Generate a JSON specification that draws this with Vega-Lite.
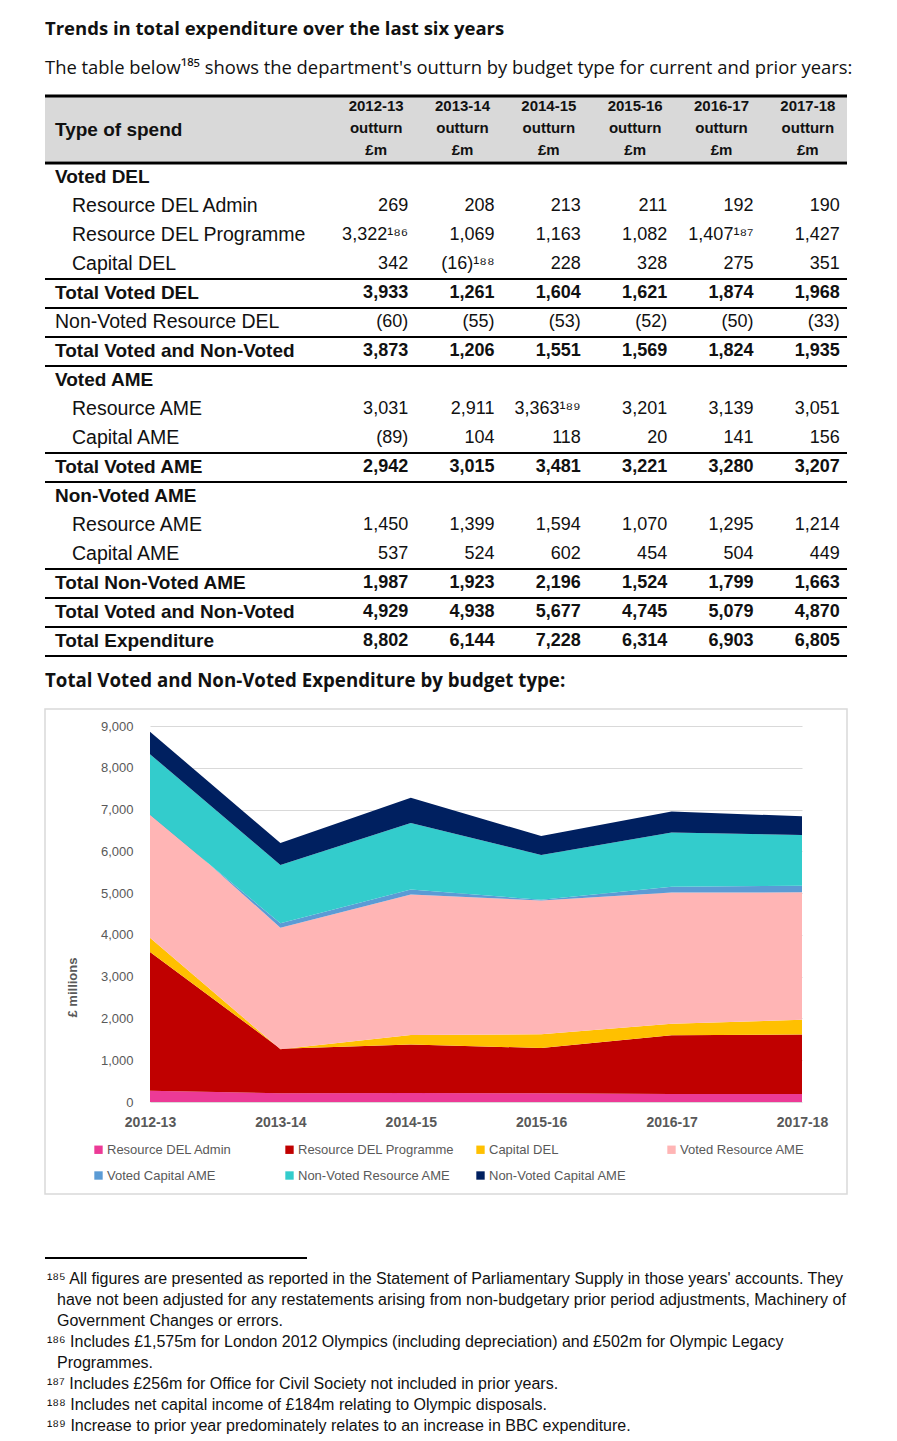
{
  "$schema": "https://vega.github.io/schema/vega-lite/v6.json",
  "background": "white",
  "padding": {"left": 43, "top": 19, "right": 10, "bottom": 0},
  "config": {
    "font": "Liberation Sans",
    "view": {"stroke": null},
    "text": {"color": "#111111"}
  },
  "title": {
    "text": "Trends in total expenditure over the last six years",
    "subtitle": "The table below¹⁸⁵ shows the department's outturn by budget type for current and prior years:",
    "anchor": "start",
    "frame": "group",
    "font": "Open Sans",
    "subtitleFont": "Open Sans",
    "fontSize": 18.5,
    "fontWeight": "bold",
    "color": "#111111",
    "subtitleFontSize": 18.4,
    "subtitleColor": "#111111",
    "subtitlePadding": 21,
    "offset": 17
  },
  "datasets": {
    "headcols": [
      {"year": "2012-13", "head": "2012-13\noutturn\n£m"},
      {"year": "2013-14", "head": "2013-14\noutturn\n£m"},
      {"year": "2014-15", "head": "2014-15\noutturn\n£m"},
      {"year": "2015-16", "head": "2015-16\noutturn\n£m"},
      {"year": "2016-17", "head": "2016-17\noutturn\n£m"},
      {"year": "2017-18", "head": "2017-18\noutturn\n£m"}
    ],
    "rows": [
      {"r": 1, "label": "Voted DEL", "kind": "section", "level": 0},
      {"r": 2, "label": "Resource DEL Admin", "kind": "item", "level": 1},
      {"r": 3, "label": "Resource DEL Programme", "kind": "item", "level": 1},
      {"r": 4, "label": "Capital DEL", "kind": "item", "level": 1},
      {"r": 5, "label": "Total Voted DEL", "kind": "total", "level": 0},
      {"r": 6, "label": "Non-Voted Resource DEL", "kind": "plain", "level": 0},
      {"r": 7, "label": "Total Voted and Non-Voted", "kind": "total", "level": 0},
      {"r": 8, "label": "Voted AME", "kind": "section", "level": 0},
      {"r": 9, "label": "Resource AME", "kind": "item", "level": 1},
      {"r": 10, "label": "Capital AME", "kind": "item", "level": 1},
      {"r": 11, "label": "Total Voted AME", "kind": "total", "level": 0},
      {"r": 12, "label": "Non-Voted AME", "kind": "section", "level": 0},
      {"r": 13, "label": "Resource AME", "kind": "item", "level": 1},
      {"r": 14, "label": "Capital AME", "kind": "item", "level": 1},
      {"r": 15, "label": "Total Non-Voted AME", "kind": "total", "level": 0},
      {"r": 16, "label": "Total Voted and Non-Voted", "kind": "total", "level": 0},
      {"r": 17, "label": "Total Expenditure", "kind": "total", "level": 0}
    ],
    "cells": [
      {"r": 2, "year": "2012-13", "val": "269"}, {"r": 2, "year": "2013-14", "val": "208"}, {"r": 2, "year": "2014-15", "val": "213"}, {"r": 2, "year": "2015-16", "val": "211"}, {"r": 2, "year": "2016-17", "val": "192"}, {"r": 2, "year": "2017-18", "val": "190"},
      {"r": 3, "year": "2012-13", "val": "3,322¹⁸⁶"}, {"r": 3, "year": "2013-14", "val": "1,069"}, {"r": 3, "year": "2014-15", "val": "1,163"}, {"r": 3, "year": "2015-16", "val": "1,082"}, {"r": 3, "year": "2016-17", "val": "1,407¹⁸⁷"}, {"r": 3, "year": "2017-18", "val": "1,427"},
      {"r": 4, "year": "2012-13", "val": "342"}, {"r": 4, "year": "2013-14", "val": "(16)¹⁸⁸"}, {"r": 4, "year": "2014-15", "val": "228"}, {"r": 4, "year": "2015-16", "val": "328"}, {"r": 4, "year": "2016-17", "val": "275"}, {"r": 4, "year": "2017-18", "val": "351"},
      {"r": 5, "year": "2012-13", "val": "3,933"}, {"r": 5, "year": "2013-14", "val": "1,261"}, {"r": 5, "year": "2014-15", "val": "1,604"}, {"r": 5, "year": "2015-16", "val": "1,621"}, {"r": 5, "year": "2016-17", "val": "1,874"}, {"r": 5, "year": "2017-18", "val": "1,968"},
      {"r": 6, "year": "2012-13", "val": "(60)"}, {"r": 6, "year": "2013-14", "val": "(55)"}, {"r": 6, "year": "2014-15", "val": "(53)"}, {"r": 6, "year": "2015-16", "val": "(52)"}, {"r": 6, "year": "2016-17", "val": "(50)"}, {"r": 6, "year": "2017-18", "val": "(33)"},
      {"r": 7, "year": "2012-13", "val": "3,873"}, {"r": 7, "year": "2013-14", "val": "1,206"}, {"r": 7, "year": "2014-15", "val": "1,551"}, {"r": 7, "year": "2015-16", "val": "1,569"}, {"r": 7, "year": "2016-17", "val": "1,824"}, {"r": 7, "year": "2017-18", "val": "1,935"},
      {"r": 9, "year": "2012-13", "val": "3,031"}, {"r": 9, "year": "2013-14", "val": "2,911"}, {"r": 9, "year": "2014-15", "val": "3,363¹⁸⁹"}, {"r": 9, "year": "2015-16", "val": "3,201"}, {"r": 9, "year": "2016-17", "val": "3,139"}, {"r": 9, "year": "2017-18", "val": "3,051"},
      {"r": 10, "year": "2012-13", "val": "(89)"}, {"r": 10, "year": "2013-14", "val": "104"}, {"r": 10, "year": "2014-15", "val": "118"}, {"r": 10, "year": "2015-16", "val": "20"}, {"r": 10, "year": "2016-17", "val": "141"}, {"r": 10, "year": "2017-18", "val": "156"},
      {"r": 11, "year": "2012-13", "val": "2,942"}, {"r": 11, "year": "2013-14", "val": "3,015"}, {"r": 11, "year": "2014-15", "val": "3,481"}, {"r": 11, "year": "2015-16", "val": "3,221"}, {"r": 11, "year": "2016-17", "val": "3,280"}, {"r": 11, "year": "2017-18", "val": "3,207"},
      {"r": 13, "year": "2012-13", "val": "1,450"}, {"r": 13, "year": "2013-14", "val": "1,399"}, {"r": 13, "year": "2014-15", "val": "1,594"}, {"r": 13, "year": "2015-16", "val": "1,070"}, {"r": 13, "year": "2016-17", "val": "1,295"}, {"r": 13, "year": "2017-18", "val": "1,214"},
      {"r": 14, "year": "2012-13", "val": "537"}, {"r": 14, "year": "2013-14", "val": "524"}, {"r": 14, "year": "2014-15", "val": "602"}, {"r": 14, "year": "2015-16", "val": "454"}, {"r": 14, "year": "2016-17", "val": "504"}, {"r": 14, "year": "2017-18", "val": "449"},
      {"r": 15, "year": "2012-13", "val": "1,987"}, {"r": 15, "year": "2013-14", "val": "1,923"}, {"r": 15, "year": "2014-15", "val": "2,196"}, {"r": 15, "year": "2015-16", "val": "1,524"}, {"r": 15, "year": "2016-17", "val": "1,799"}, {"r": 15, "year": "2017-18", "val": "1,663"},
      {"r": 16, "year": "2012-13", "val": "4,929"}, {"r": 16, "year": "2013-14", "val": "4,938"}, {"r": 16, "year": "2014-15", "val": "5,677"}, {"r": 16, "year": "2015-16", "val": "4,745"}, {"r": 16, "year": "2016-17", "val": "5,079"}, {"r": 16, "year": "2017-18", "val": "4,870"},
      {"r": 17, "year": "2012-13", "val": "8,802"}, {"r": 17, "year": "2013-14", "val": "6,144"}, {"r": 17, "year": "2014-15", "val": "7,228"}, {"r": 17, "year": "2015-16", "val": "6,314"}, {"r": 17, "year": "2016-17", "val": "6,903"}, {"r": 17, "year": "2017-18", "val": "6,805"}
    ],
    "spend": [
      {"year": "2012-13", "series": "Resource DEL Admin", "v": 269}, {"year": "2013-14", "series": "Resource DEL Admin", "v": 208}, {"year": "2014-15", "series": "Resource DEL Admin", "v": 213}, {"year": "2015-16", "series": "Resource DEL Admin", "v": 211}, {"year": "2016-17", "series": "Resource DEL Admin", "v": 192}, {"year": "2017-18", "series": "Resource DEL Admin", "v": 190},
      {"year": "2012-13", "series": "Resource DEL Programme", "v": 3322}, {"year": "2013-14", "series": "Resource DEL Programme", "v": 1069}, {"year": "2014-15", "series": "Resource DEL Programme", "v": 1163}, {"year": "2015-16", "series": "Resource DEL Programme", "v": 1082}, {"year": "2016-17", "series": "Resource DEL Programme", "v": 1407}, {"year": "2017-18", "series": "Resource DEL Programme", "v": 1427},
      {"year": "2012-13", "series": "Capital DEL", "v": 342}, {"year": "2013-14", "series": "Capital DEL", "v": -16}, {"year": "2014-15", "series": "Capital DEL", "v": 228}, {"year": "2015-16", "series": "Capital DEL", "v": 328}, {"year": "2016-17", "series": "Capital DEL", "v": 275}, {"year": "2017-18", "series": "Capital DEL", "v": 351},
      {"year": "2012-13", "series": "Voted Resource AME", "v": 3031}, {"year": "2013-14", "series": "Voted Resource AME", "v": 2911}, {"year": "2014-15", "series": "Voted Resource AME", "v": 3363}, {"year": "2015-16", "series": "Voted Resource AME", "v": 3201}, {"year": "2016-17", "series": "Voted Resource AME", "v": 3139}, {"year": "2017-18", "series": "Voted Resource AME", "v": 3051},
      {"year": "2012-13", "series": "Voted Capital AME", "v": -89}, {"year": "2013-14", "series": "Voted Capital AME", "v": 104}, {"year": "2014-15", "series": "Voted Capital AME", "v": 118}, {"year": "2015-16", "series": "Voted Capital AME", "v": 20}, {"year": "2016-17", "series": "Voted Capital AME", "v": 141}, {"year": "2017-18", "series": "Voted Capital AME", "v": 156},
      {"year": "2012-13", "series": "Non-Voted Resource AME", "v": 1450}, {"year": "2013-14", "series": "Non-Voted Resource AME", "v": 1399}, {"year": "2014-15", "series": "Non-Voted Resource AME", "v": 1594}, {"year": "2015-16", "series": "Non-Voted Resource AME", "v": 1070}, {"year": "2016-17", "series": "Non-Voted Resource AME", "v": 1295}, {"year": "2017-18", "series": "Non-Voted Resource AME", "v": 1214},
      {"year": "2012-13", "series": "Non-Voted Capital AME", "v": 537}, {"year": "2013-14", "series": "Non-Voted Capital AME", "v": 524}, {"year": "2014-15", "series": "Non-Voted Capital AME", "v": 602}, {"year": "2015-16", "series": "Non-Voted Capital AME", "v": 454}, {"year": "2016-17", "series": "Non-Voted Capital AME", "v": 504}, {"year": "2017-18", "series": "Non-Voted Capital AME", "v": 449}
    ],
    "notes": [
      {"ln": 1, "level": 0, "text": "¹⁸⁵ All figures are presented as reported in the Statement of Parliamentary Supply in those years' accounts. They"},
      {"ln": 2, "level": 1, "text": "have not been adjusted for any restatements arising from non-budgetary prior period adjustments, Machinery of"},
      {"ln": 3, "level": 1, "text": "Government Changes or errors."},
      {"ln": 4, "level": 0, "text": "¹⁸⁶ Includes £1,575m for London 2012 Olympics (including depreciation) and £502m for Olympic Legacy"},
      {"ln": 5, "level": 1, "text": "Programmes."},
      {"ln": 6, "level": 0, "text": "¹⁸⁷ Includes £256m for Office for Civil Society not included in prior years."},
      {"ln": 7, "level": 0, "text": "¹⁸⁸ Includes net capital income of £184m relating to Olympic disposals."},
      {"ln": 8, "level": 0, "text": "¹⁸⁹ Increase to prior year predominately relates to an increase in BBC expenditure."}
    ]
  },
  "spacing": 14,
  "vconcat": [
    {
      "spacing": 0,
      "vconcat": [
        {
          "width": 802,
          "height": 65,
          "view": {"fill": "#d9d9d9", "stroke": null},
          "layer": [
            {
              "data": {"name": "headcols"},
              "mark": {"type": "text", "fontWeight": "bold", "fontSize": 15, "lineBreak": "\n", "lineHeight": 22, "align": "center", "baseline": "middle", "dy": -23},
              "encoding": {
                "x": {"field": "year", "type": "ordinal", "scale": {"range": [288, 806], "paddingInner": 0, "paddingOuter": 0}, "axis": null},
                "text": {"field": "head"}
              }
            },
            {
              "data": {"values": [{"label": "Type of spend", "level": 0}]},
              "mark": {"type": "text", "fontWeight": "bold", "fontSize": 19, "align": "left", "baseline": "middle", "dy": 1},
              "encoding": {
                "x": {"field": "level", "type": "quantitative", "scale": {"domain": [0, 1], "range": [10, 27]}, "axis": null},
                "text": {"field": "label"}
              }
            },
            {
              "data": {"values": [{"label": "Type of spend"}]},
              "mark": {"type": "rule", "strokeWidth": 3, "color": "black"},
              "encoding": {
                "y": {"field": "label", "type": "nominal", "bandPosition": 0, "scale": {"paddingInner": 0, "paddingOuter": 0}, "axis": null}
              }
            }
          ],
          "resolve": {"scale": {"x": "independent"}}
        },
        {
          "width": 802,
          "height": 493,
          "layer": [
            {
              "data": {"name": "rows"},
              "transform": [{"filter": "datum.kind != 'item' && datum.r != 1"}],
              "mark": {"type": "rule", "strokeWidth": 2, "color": "black"},
              "encoding": {"y": {"field": "r", "type": "ordinal", "bandPosition": 0, "scale": {"paddingInner": 0, "paddingOuter": 0}, "axis": null}}
            },
            {
              "data": {"name": "rows"},
              "transform": [{"filter": "datum.r == 1"}],
              "mark": {"type": "rule", "strokeWidth": 3, "color": "black"},
              "encoding": {"y": {"field": "r", "type": "ordinal", "bandPosition": 0, "axis": null}}
            },
            {
              "data": {"name": "rows"},
              "transform": [{"filter": "datum.r == 17"}],
              "mark": {"type": "rule", "strokeWidth": 2, "color": "black"},
              "encoding": {"y": {"field": "r", "type": "ordinal", "bandPosition": 1, "axis": null}}
            },
            {
              "data": {"name": "rows"},
              "transform": [{"filter": "datum.kind == 'item' || datum.kind == 'plain'"}],
              "mark": {"type": "text", "align": "left", "baseline": "middle", "fontSize": 19.5, "dy": -1},
              "encoding": {
                "y": {"field": "r", "type": "ordinal", "axis": null},
                "x": {"field": "level", "type": "quantitative", "scale": {"domain": [0, 1], "range": [10, 27]}, "axis": null},
                "text": {"field": "label"}
              }
            },
            {
              "data": {"name": "rows"},
              "transform": [{"filter": "datum.kind == 'section' || datum.kind == 'total'"}],
              "mark": {"type": "text", "align": "left", "baseline": "middle", "fontSize": 19, "fontWeight": "bold", "dy": -1},
              "encoding": {
                "y": {"field": "r", "type": "ordinal", "axis": null},
                "x": {"field": "level", "type": "quantitative", "scale": {"domain": [0, 1], "range": [10, 27]}, "axis": null},
                "text": {"field": "label"}
              }
            },
            {
              "data": {"name": "cells"},
              "transform": [
                {"lookup": "r", "from": {"data": {"name": "rows"}, "key": "r", "fields": ["kind"]}},
                {"filter": "datum.kind != 'total'"}
              ],
              "mark": {"type": "text", "align": "right", "baseline": "middle", "fontSize": 18, "dx": 32, "dy": -1},
              "encoding": {
                "y": {"field": "r", "type": "ordinal", "axis": null},
                "x": {"field": "year", "type": "ordinal", "scale": {"range": [288, 806], "paddingInner": 0, "paddingOuter": 0}, "axis": null},
                "text": {"field": "val"}
              }
            },
            {
              "data": {"name": "cells"},
              "transform": [
                {"lookup": "r", "from": {"data": {"name": "rows"}, "key": "r", "fields": ["kind"]}},
                {"filter": "datum.kind == 'total'"}
              ],
              "mark": {"type": "text", "align": "right", "baseline": "middle", "fontSize": 18, "fontWeight": "bold", "dx": 32, "dy": -1},
              "encoding": {
                "y": {"field": "r", "type": "ordinal", "axis": null},
                "x": {"field": "year", "type": "ordinal", "scale": {"range": [288, 806], "paddingInner": 0, "paddingOuter": 0}, "axis": null},
                "text": {"field": "val"}
              }
            }
          ],
          "resolve": {"scale": {"x": "independent"}}
        }
      ]
    },
    {
      "spacing": 62,
      "vconcat": [
        {
          "width": 802,
          "height": 485,
          "title": {"text": "Total Voted and Non-Voted Expenditure by budget type:", "anchor": "start", "frame": "group", "font": "Open Sans", "fontSize": 18.7, "fontWeight": "bold", "color": "#111111", "offset": 18},
          "view": {"stroke": "#d9d9d9", "strokeWidth": 1.5},
          "data": {"name": "spend"},
          "transform": [
            {"window": [{"op": "row_number", "as": "k"}], "groupby": ["year"]},
            {"window": [{"op": "sum", "field": "v", "as": "cum"}], "groupby": ["year"], "sort": [{"field": "k"}], "frame": [null, 0]},
            {"window": [{"op": "lag", "field": "cum", "as": "prev"}], "groupby": ["year"], "sort": [{"field": "k"}]}
          ],
          "mark": {"type": "area", "interpolate": "linear", "invalid": null},
          "encoding": {
            "x": {
              "field": "year", "type": "ordinal",
              "scale": {"type": "point", "range": [105, 757], "padding": 0},
              "axis": {"orient": "bottom", "offset": -92, "labelAngle": 0, "ticks": false, "domain": false, "grid": false, "labelColor": "#595959", "labelFontSize": 14, "labelFontWeight": "bold", "labelPadding": 13, "title": null}
            },
            "y": {
              "field": "cum", "type": "quantitative", "stack": null,
              "scale": {"domain": [0, 9000], "range": [393, 17], "clamp": true, "nice": false},
              "axis": {"orient": "left", "offset": -105, "values": [0, 1000, 2000, 3000, 4000, 5000, 6000, 7000, 8000, 9000], "format": ",d", "grid": true, "gridColor": "#d9d9d9", "ticks": false, "domain": false, "labelColor": "#595959", "labelFontSize": 13, "labelPadding": 17, "title": "£ millions", "titleFontSize": 13, "titleFontWeight": "bold", "titleColor": "#595959", "titleX": -78, "titleY": 278, "titleAngle": 270, "titleAlign": "center", "titleBaseline": "middle"}
            },
            "y2": {"field": "prev"},
            "color": {
              "field": "series", "type": "nominal",
              "scale": {
                "domain": ["Resource DEL Admin", "Resource DEL Programme", "Capital DEL", "Voted Resource AME", "Voted Capital AME", "Non-Voted Resource AME", "Non-Voted Capital AME"],
                "range": ["#ec3a96", "#c00000", "#ffc000", "#ffb5b5", "#5b9bd5", "#33cccc", "#002060"]
              },
              "legend": {"orient": "none", "legendX": 47, "legendY": 1047, "direction": "horizontal", "columns": 4, "title": null, "symbolType": "square", "symbolSize": 70, "symbolStrokeWidth": 0, "labelFontSize": 13, "labelColor": "#595959", "labelLimit": 300, "columnPadding": 19, "rowPadding": 12, "gridAlign": "all", "labelOffset": 2, "padding": 0}
            }
          }
        },
        {
          "spacing": 11,
          "vconcat": [
            {
              "width": 262,
              "height": 2,
              "data": {"values": [{"part": "separator"}]},
              "mark": {"type": "rect", "color": "black"},
              "encoding": {}
            },
            {
              "width": 802,
              "height": 168,
              "data": {"name": "notes"},
              "mark": {"type": "text", "align": "left", "baseline": "middle", "fontSize": 16, "dy": -2},
              "encoding": {
                "y": {"field": "ln", "type": "ordinal", "scale": {"paddingInner": 0, "paddingOuter": 0}, "axis": null},
                "x": {"field": "level", "type": "quantitative", "scale": {"domain": [0, 1], "range": [2, 12]}, "axis": null},
                "text": {"field": "text"}
              }
            }
          ]
        }
      ]
    }
  ]
}
